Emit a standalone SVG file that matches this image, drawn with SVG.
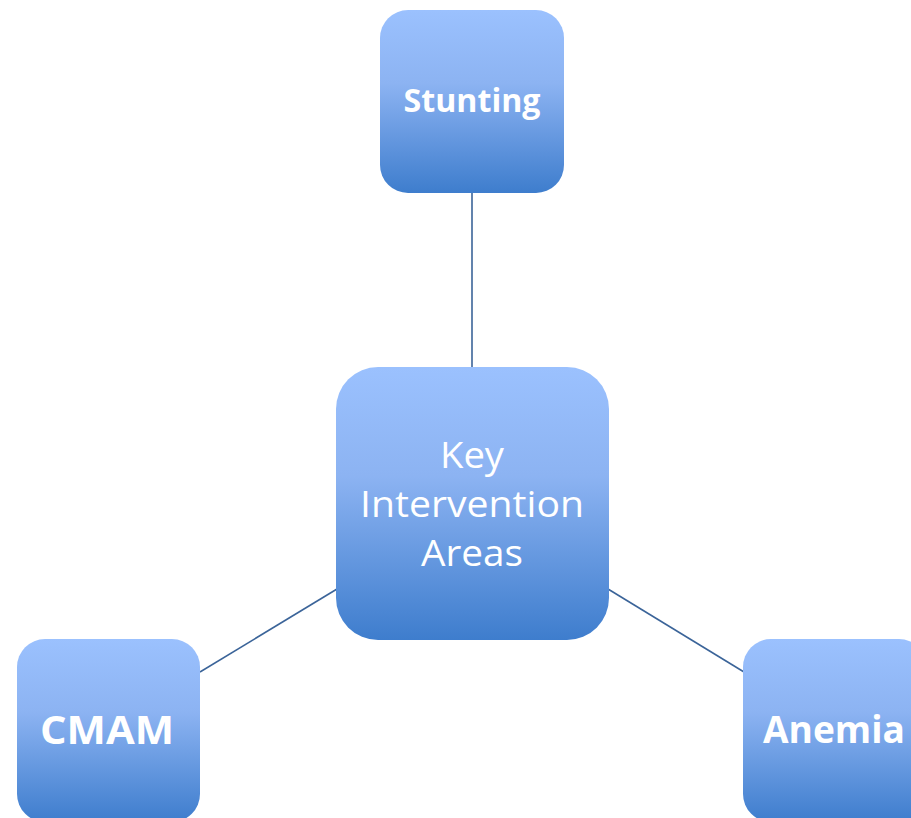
<svg xmlns="http://www.w3.org/2000/svg" width="911" height="818" viewBox="0 0 911 818">
<defs>
<linearGradient id="g" x1="0" y1="0" x2="0" y2="1">
<stop offset="0" stop-color="#9BC1FE"/>
<stop offset="0.4" stop-color="#8CB3F2"/>
<stop offset="1" stop-color="#3E7DCD"/>
</linearGradient>
<style>
.box{fill:url(#g);}
.edge{stroke:#3B6499;stroke-width:1.6;fill:none;}
.t{fill:#fff;font-family:"Open Sans","Liberation Sans",Arial,sans-serif;text-anchor:middle;}
.b{font-weight:bold;}
</style>
</defs>
<rect width="911" height="818" fill="#fff"/>
<g id="connectors">
<line class="edge" x1="472" y1="193" x2="472" y2="368"/>
<line class="edge" x1="200" y1="672" x2="337" y2="589"/>
<line class="edge" x1="608" y1="589" x2="744" y2="672"/>
</g>
<g id="stunting">
<rect class="box" x="380" y="10" width="184" height="183" rx="28"/>
<text class="t b" x="472" y="112" font-size="32" textLength="137" lengthAdjust="spacingAndGlyphs">Stunting</text>
</g>
<g id="center">
<rect class="box" x="336" y="367" width="273" height="273" rx="42"/>
<text class="t" x="472" y="468" font-size="37" textLength="64" lengthAdjust="spacingAndGlyphs">Key</text>
<text class="t" x="472" y="517" font-size="37" textLength="224" lengthAdjust="spacingAndGlyphs">Intervention</text>
<text class="t" x="472" y="566" font-size="37" textLength="102" lengthAdjust="spacingAndGlyphs">Areas</text>
</g>
<g id="cmam">
<rect class="box" x="17" y="639" width="183" height="183" rx="28"/>
<text class="t b" x="107" y="744" font-size="40" textLength="134" lengthAdjust="spacingAndGlyphs">CMAM</text>
</g>
<g id="anemia">
<rect class="box" x="743" y="639" width="184" height="183" rx="28"/>
<text class="t b" x="834" y="743" font-size="38" textLength="142" lengthAdjust="spacingAndGlyphs">Anemia</text>
</g>
</svg>
